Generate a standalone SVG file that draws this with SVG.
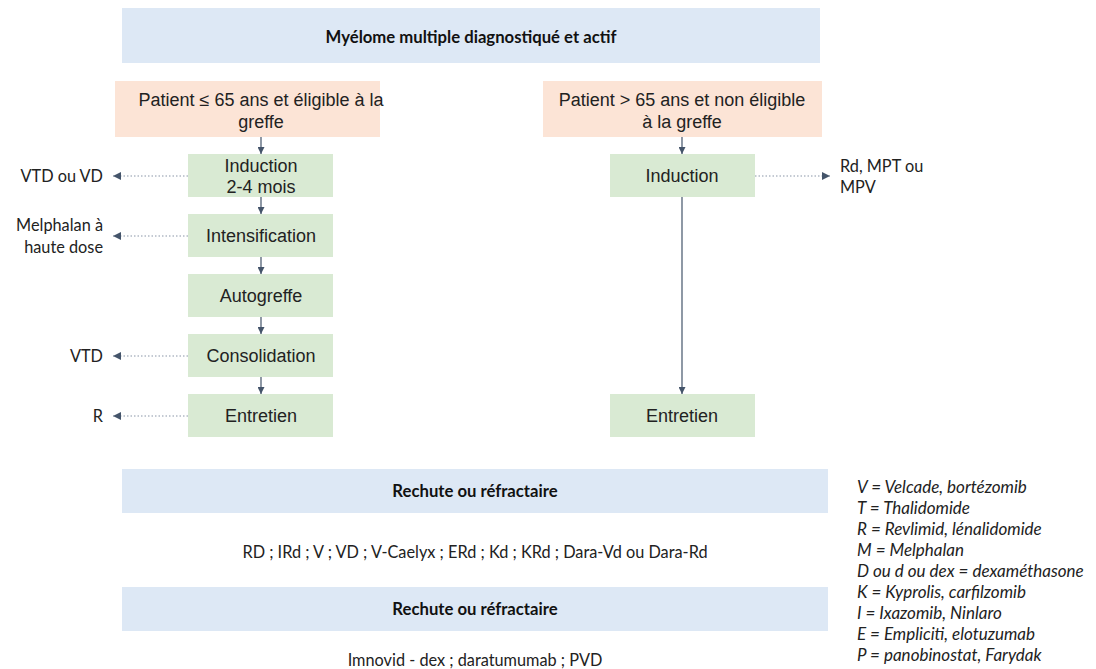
<svg xmlns="http://www.w3.org/2000/svg" width="1096" height="669" viewBox="0 0 1096 669">
<defs>
<style>
.blue{fill:#dde8f5}
.orange{fill:#fce4d6}
.green{fill:#d9ead3}
.ar{font-family:"Liberation Sans",Arial,sans-serif;font-size:18px;fill:#222;text-anchor:middle}
.ca{font-family:Lato,"Open Sans",sans-serif;font-size:16.3px;fill:#222}
.cb{font-family:Lato,"Open Sans",sans-serif;font-size:16.7px;font-weight:bold;fill:#111;text-anchor:middle}
.it{font-family:Lato,"Open Sans",sans-serif;font-size:17px;font-style:italic;fill:#222}
.solid{stroke:#44546a;stroke-width:1.2;fill:none}
.dot{stroke:#8a96a8;stroke-width:1.2;stroke-dasharray:1.5 2;fill:none}
</style>
<marker id="ah" viewBox="0 0 10 10" refX="10" refY="5" markerWidth="7" markerHeight="7" markerUnits="userSpaceOnUse" orient="auto">
<path d="M0,0 L10,5 L0,10 z" fill="#44546a"/>
</marker>
<marker id="ah2" viewBox="0 0 10 10" refX="10" refY="5" markerWidth="9" markerHeight="8" markerUnits="userSpaceOnUse" orient="auto">
<path d="M0,0 L10,5 L0,10 z" fill="#44546a"/>
</marker>
</defs>
<rect width="1096" height="669" fill="#ffffff"/>

<g id="title">
<rect class="blue" x="122" y="8" width="698" height="55"/>
<text class="cb" x="471" y="43">Myélome multiple diagnostiqué et actif</text>
</g>

<g id="patient-left">
<rect class="orange" x="115" y="81" width="265" height="56"/>
<text class="ar" x="261" y="106">Patient ≤ 65 ans et éligible à la</text>
<text class="ar" x="261" y="128">greffe</text>
</g>

<g id="patient-right">
<rect class="orange" x="543" y="81" width="279" height="56"/>
<text class="ar" x="682" y="106">Patient &gt; 65 ans et non éligible</text>
<text class="ar" x="682" y="128">à la greffe</text>
</g>

<g id="induction-left">
<rect class="green" x="188" y="154" width="145" height="43"/>
<text class="ar" x="261" y="172">Induction</text>
<text class="ar" x="261" y="193">2-4 mois</text>
</g>
<g id="intensification">
<rect class="green" x="188" y="214" width="145" height="43"/>
<text class="ar" x="261" y="242">Intensification</text>
</g>
<g id="autogreffe">
<rect class="green" x="188" y="274" width="145" height="43"/>
<text class="ar" x="261" y="302">Autogreffe</text>
</g>
<g id="consolidation">
<rect class="green" x="188" y="334" width="145" height="43"/>
<text class="ar" x="261" y="362">Consolidation</text>
</g>
<g id="entretien-left">
<rect class="green" x="188" y="394" width="145" height="43"/>
<text class="ar" x="261" y="422">Entretien</text>
</g>

<g id="induction-right">
<rect class="green" x="610" y="154" width="145" height="43"/>
<text class="ar" x="682" y="182">Induction</text>
</g>
<g id="entretien-right">
<rect class="green" x="610" y="394" width="145" height="43"/>
<text class="ar" x="682" y="422">Entretien</text>
</g>

<g id="labels">
<text class="ca" x="103" y="182" text-anchor="end">VTD ou VD</text>
<text class="ca" x="103" y="231" text-anchor="end">Melphalan à</text>
<text class="ca" x="103" y="253" text-anchor="end">haute dose</text>
<text class="ca" x="103" y="362" text-anchor="end">VTD</text>
<text class="ca" x="103" y="422" text-anchor="end">R</text>
<text class="ca" x="840" y="172">Rd, MPT ou</text>
<text class="ca" x="840" y="193">MPV</text>
</g>

<g id="connectors">
<line class="solid" x1="261" y1="137" x2="261" y2="154" marker-end="url(#ah)"/>
<line class="solid" x1="261" y1="197" x2="261" y2="214" marker-end="url(#ah)"/>
<line class="solid" x1="261" y1="257" x2="261" y2="274" marker-end="url(#ah)"/>
<line class="solid" x1="261" y1="317" x2="261" y2="334" marker-end="url(#ah)"/>
<line class="solid" x1="261" y1="377" x2="261" y2="394" marker-end="url(#ah)"/>
<line class="solid" x1="682" y1="137" x2="682" y2="154" marker-end="url(#ah)"/>
<line class="solid" x1="682" y1="197" x2="682" y2="394" marker-end="url(#ah)"/>
<line class="dot" x1="188" y1="176" x2="113" y2="176" marker-end="url(#ah2)"/>
<line class="dot" x1="188" y1="236" x2="113" y2="236" marker-end="url(#ah2)"/>
<line class="dot" x1="188" y1="356" x2="113" y2="356" marker-end="url(#ah2)"/>
<line class="dot" x1="188" y1="416" x2="113" y2="416" marker-end="url(#ah2)"/>
<line class="dot" x1="755" y1="176" x2="830" y2="176" marker-end="url(#ah2)"/>
</g>

<g id="rechute1">
<rect class="blue" x="122" y="469" width="706" height="44"/>
<text class="cb" x="475" y="497">Rechute ou réfractaire</text>
</g>
<g id="options1">
<text class="ca" x="475" y="558" text-anchor="middle">RD ; IRd ; V ; VD ; V-Caelyx ; ERd ; Kd ; KRd ; Dara-Vd ou Dara-Rd</text>
</g>
<g id="rechute2">
<rect class="blue" x="122" y="587" width="706" height="44"/>
<text class="cb" x="475" y="615">Rechute ou réfractaire</text>
</g>
<g id="options2">
<text class="ca" x="475" y="666" text-anchor="middle">Imnovid - dex ; daratumumab ; PVD</text>
</g>

<g id="legend">
<text class="it" x="857" y="493">V = Velcade, bortézomib</text>
<text class="it" x="857" y="514">T = Thalidomide</text>
<text class="it" x="857" y="535">R = Revlimid, lénalidomide</text>
<text class="it" x="857" y="556">M = Melphalan</text>
<text class="it" x="857" y="577">D ou d ou dex = dexaméthasone</text>
<text class="it" x="857" y="598">K = Kyprolis, carfilzomib</text>
<text class="it" x="857" y="619">I = Ixazomib, Ninlaro</text>
<text class="it" x="857" y="640">E = Empliciti, elotuzumab</text>
<text class="it" x="857" y="661">P = panobinostat, Farydak</text>
</g>
</svg>
